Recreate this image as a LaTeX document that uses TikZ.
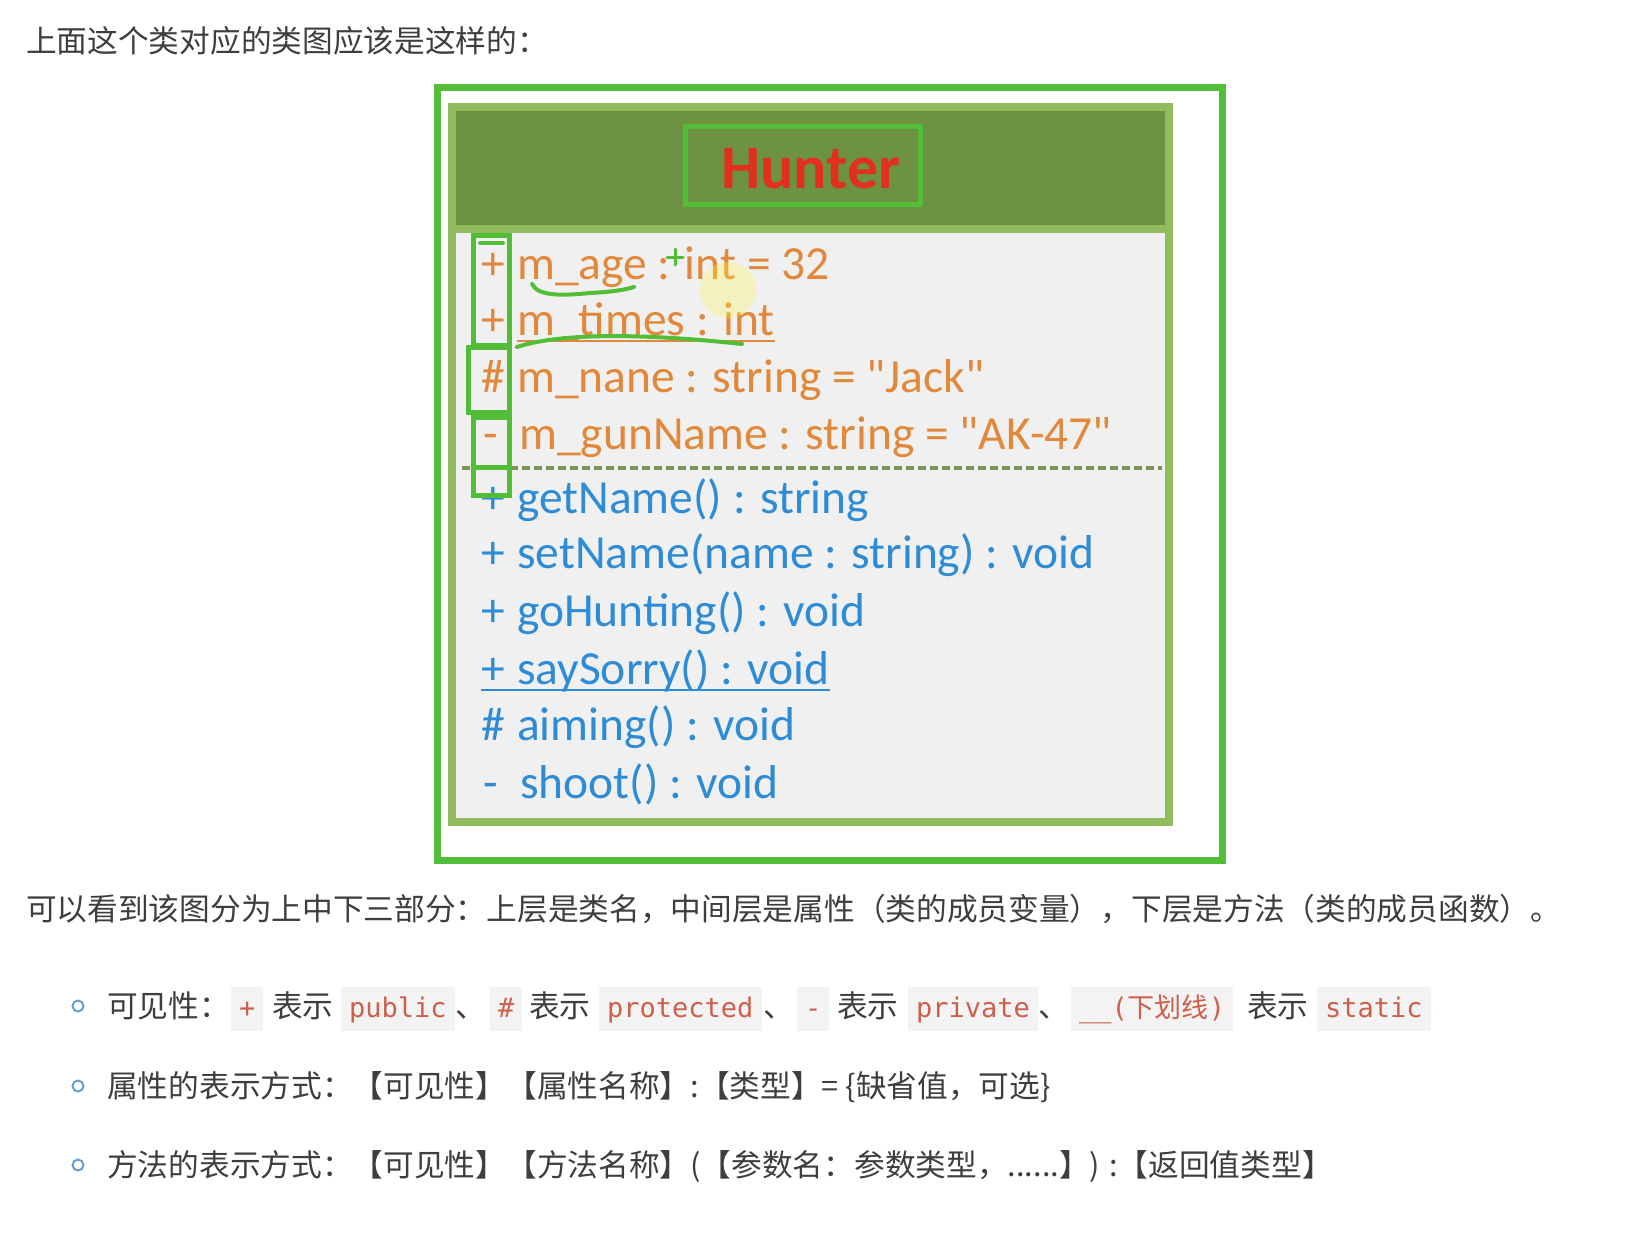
\documentclass[tikz,border=0pt]{standalone}
\usepackage{fontspec}
\setmainfont{Carlito}
\newfontfamily\cjk{Noto Sans CJK SC}
\newfontfamily\codefont{DejaVu Sans Mono}
\usetikzlibrary{positioning}
\definecolor{markgreen}{RGB}{82,190,55}
\definecolor{headgreen}{RGB}{108,146,66}
\definecolor{framegreen}{RGB}{146,186,94}
\definecolor{dashgreen}{RGB}{122,150,82}
\definecolor{bodygray}{RGB}{240,240,240}
\definecolor{attrorange}{RGB}{226,136,58}
\definecolor{methblue}{RGB}{46,140,214}
\definecolor{namered}{RGB}{226,48,30}
\definecolor{inktext}{RGB}{62,62,62}
\definecolor{codered}{RGB}{205,95,75}
\definecolor{codebg}{RGB}{243,243,243}
\definecolor{bulletblue}{RGB}{100,160,205}
\newcommand{\qt}{\textquotedbl}
\tikzset{ %all sizes in pixels of the page
  {mark box/.style} ={draw=markgreen,line width=5pt},
  {mark line/.style} ={draw=markgreen,line width=4pt,line cap=round},
  {cn text/.style} ={inner sep=0,anchor=base west,text=inktext,
                     font=\cjk\fontsize{30.7}{36}\selectfont},
  {vis/.style} ={inner sep=0,anchor=base,font=\fontsize{47.5}{56}\selectfont},
  {attr/.style} ={inner sep=0,anchor=base west,text=attrorange,
                  font=\fontsize{47.5}{56}\selectfont},
  {meth/.style} ={attr,text=methblue},
  {code/.style} ={anchor=base west,fill=codebg,text=codered,
                  inner xsep=8pt,inner ysep=9pt,text height=21pt,text depth=5pt,
                  font=\codefont\fontsize{27}{32}\selectfont},
  {bullet/.style} ={circle,draw=bulletblue,line width=2pt,
                    minimum size=11pt,inner sep=0},
}
\begin{document}
\begin{tikzpicture}[x=1pt,y=-1pt]
\useasboundingbox[fill=white] (0,0) rectangle (1644,1234);
\node[cn text] (title) at (26,52) {上面这个类对应的类图应该是这样的：};
% class frame
\path[fill=bodygray] (452,107) rectangle (1169,822);
\path[fill=headgreen] (452,107) rectangle (1169,229);
\draw[framegreen,line width=8pt] (452,107) rectangle (1169,822);
\draw[framegreen,line width=8pt] (452,229) -- (1169,229);
\draw[dashgreen,line width=4pt,dash pattern=on 8pt off 4pt] (462,468) -- (1162,468);
\node[inner sep=0,text=namered,font=\bfseries\fontsize{62}{70}\selectfont]
  (name) at (811,169) {Hunter};
% attributes
\node[vis,text=attrorange] (v1) at (493,279) {+};
\node[attr] (a1) at (517,279) {m\_age : int = 32};
\node[vis,text=attrorange] (v2) at (493,335) {+};
\node[attr] (a2) at (517,335) {m\_times : int};
\node[vis,text=attrorange] (v3) at (493,392) {\#};
\node[attr] (a3) at (517,392) {m\_nane : string = \qt Jack\qt};
\node[vis,text=attrorange] (v4) at (491,449) {-};
\node[attr] (a4) at (519,449) {m\_gunName : string = \qt AK-47\qt};
\draw[attrorange,line width=2pt] ([yshift=-6pt]a2.base west) -- ([yshift=-6pt]a2.base east);
% methods
\node[vis,text=methblue] (v5) at (493,513) {+};
\node[meth] (m1) at (517,513) {getName() : string};
\node[vis,text=methblue] (v6) at (493,568) {+};
\node[meth] (m2) at (517,568) {setName(name : string) : void};
\node[vis,text=methblue] (v7) at (493,626) {+};
\node[meth] (m3) at (517,626) {goHunting() : void};
\node[vis,text=methblue] (v8) at (493,684) {+};
\node[meth] (m4) at (517,684) {saySorry() : void};
\draw[methblue,line width=2pt] ([yshift=-6pt]v8.base west) -- ([yshift=-6pt]m4.base east);
\node[vis,text=methblue] (v9) at (493,740) {\#};
\node[meth] (m5) at (517,740) {aiming() : void};
\node[vis,text=methblue] (v10) at (491,798) {-};
\node[meth] (m6) at (520,798) {shoot() : void};
% hand marks
\fill[yellow!70,opacity=.3] (728,290) circle (28pt);
\draw[markgreen,line width=7pt] (437,87) rectangle (1222,860);
\draw[mark box] (685,126) rectangle (920,204);
\draw[mark box] (473,235) rectangle (509,345);
\draw[mark line] (480,243) -- (503,243);
\draw[mark box] (468,347) rectangle (509,412);
\draw[mark box] (473,417) rectangle (509,467);
\draw[mark box] (473,467) rectangle (509,495);
\draw[mark line,line width=3pt] (667,257) -- (683,257) (675,249) -- (675,265);
\draw[mark line] (532,284) .. controls (538,296) and (560,296) .. (590,293)
                 .. controls (610,292) and (625,290) .. (634,287);
\draw[mark line] (517,347) .. controls (560,333) and (640,333) .. (742,344);
% notes below
\node[cn text] (intro) at (26,920)
  {可以看到该图分为上中下三部分：上层是类名，中间层是属性（类的成员变量），下层是方法（类的成员函数）。};
\node[bullet] (b1) at (78,1006) {};
\node[bullet] (b2) at (78,1086) {};
\node[bullet] (b3) at (78,1165) {};
\node[cn text] (l1) at (107,1017) {可见性：};
\node[code] (c1) at (231,1017) {+};
\node[cn text] (s1) at (272,1017) {表示};
\node[code] (c2) at (341,1017) {public};
\node[cn text] (p1) at (455,1017) {、};
\node[code] (c3) at (490,1017) {\#};
\node[cn text] (s2) at (529,1017) {表示};
\node[code] (c4) at (599,1017) {protected};
\node[cn text] (p2) at (763,1017) {、};
\node[code] (c5) at (797,1017) {-};
\node[cn text] (s3) at (837,1017) {表示};
\node[code] (c6) at (908,1017) {private};
\node[cn text] (p3) at (1038,1017) {、};
\node[code] (c7) at (1071,1017) {\_\_({\cjk 下划线})};
\node[cn text] (s4) at (1247,1017) {表示};
\node[code] (c8) at (1317,1017) {static};
\node[cn text] (l2) at (107,1097) {属性的表示方式：【可见性】【属性名称】:【类型】= \{缺省值，可选\}};
\node[cn text] (l3) at (107,1176) {方法的表示方式：【可见性】【方法名称】(【参数名：参数类型，......】) :【返回值类型】};
\end{tikzpicture}
\end{document}
